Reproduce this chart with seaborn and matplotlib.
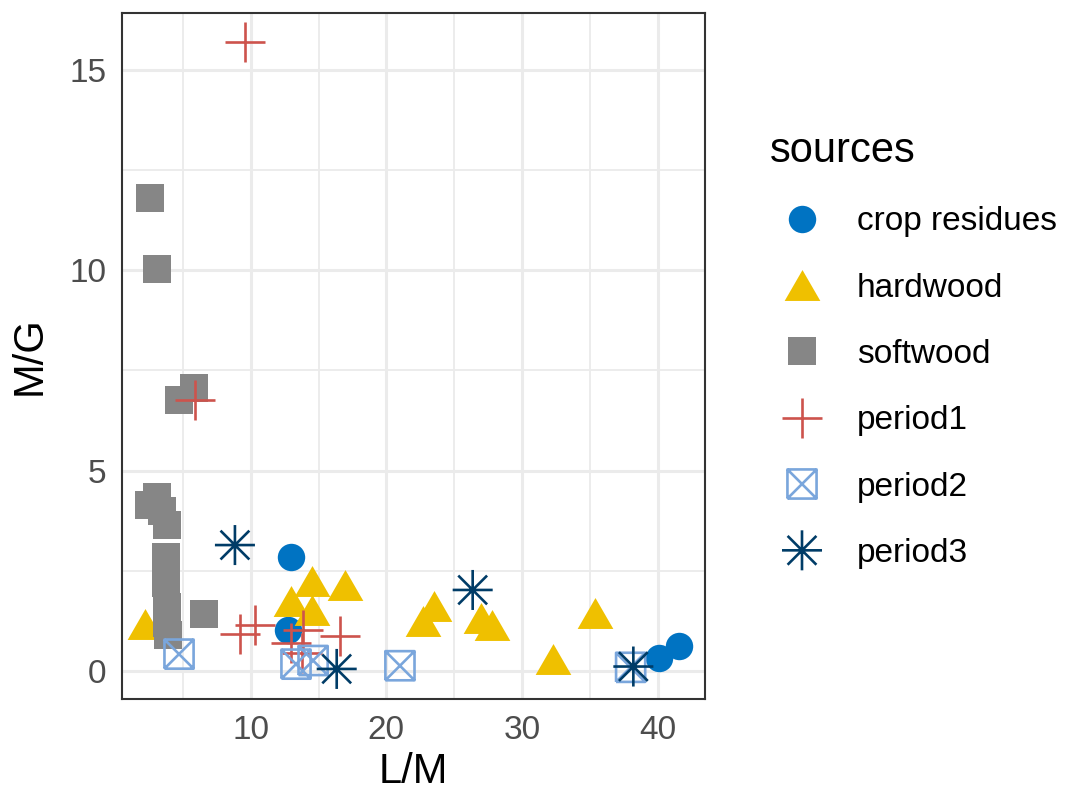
import numpy as np
import pandas as pd
import seaborn as sns
import matplotlib.pyplot as plt
from matplotlib.path import Path
from matplotlib.markers import MarkerStyle
from matplotlib.ticker import MultipleLocator

# values
crop_x = [12.95, 12.77, 40.1, 41.6]
crop_y = [2.83, 1.02, 0.32, 0.62]
hard_x = [2.2, 12.97, 14.5, 14.5, 16.95, 22.7, 23.5, 26.97, 27.8, 32.3, 35.4]
hard_y = [1.17, 1.75, 1.52, 2.24, 2.14, 1.25, 1.63, 1.32, 1.15, 0.29, 1.44]
soft_x = [2.58, 3.12, 4.74, 5.82, 2.5, 3.07, 3.5, 3.8, 3.76, 3.76, 3.8, 3.85, 3.9, 6.56]
soft_y = [11.8, 10.02, 6.76, 7.05, 4.14, 4.35, 4.0, 3.64, 2.85, 2.19, 1.6, 1.2, 0.9, 1.42]
p1_x = [9.58, 5.9, 9.2, 10.3, 13.88, 13.0, 13.76, 16.58]
p1_y = [15.68, 6.76, 0.92, 1.15, 1.02, 0.69, 0.44, 0.88]
p2_x = [4.72, 13.34, 14.6, 21.0, 38.0]
p2_y = [0.42, 0.17, 0.26, 0.13, 0.09]
p3_x = [8.84, 26.36, 16.34, 38.2]
p3_y = [3.14, 2.02, 0.05, 0.11]

sources = ["crop residues", "hardwood", "softwood", "period1", "period2", "period3"]
colors = ["#0073C2", "#EFC000", "#868686", "#CD534C", "#7AA6DC", "#003C67"]
xs = [crop_x, hard_x, soft_x, p1_x, p2_x, p3_x]
ys = [crop_y, hard_y, soft_y, p1_y, p2_y, p3_y]

df = pd.concat([pd.DataFrame({"L/M": x, "M/G": y, "source": s})
                for x, y, s in zip(xs, ys, sources)], ignore_index=True)

# ggplot-like marker shapes
M, L = Path.MOVETO, Path.LINETO
triangle = MarkerStyle(Path([(0, 0.866), (-1, -0.866), (1, -0.866), (0, 0.866)],
                            [M, L, L, Path.CLOSEPOLY]))
box_x = MarkerStyle(Path([(-1, -1), (1, -1), (1, 1), (-1, 1), (-1, -1),
                          (-1, -1), (1, 1), (-1, 1), (1, -1)],
                         [M, L, L, L, L, M, L, M, L]))
d = 0.72
asterisk = MarkerStyle(Path([(-1, 0), (1, 0), (0, -1), (0, 1),
                             (-d, -d), (d, d), (-d, d), (d, -d)],
                            [M, L, M, L, M, L, M, L]))

# (marker, size, kind)
styles = {
    "crop residues": ("o", 390, "fill"),
    "hardwood": (triangle, 660, "fill"),
    "softwood": ("s", 400, "fill"),
    "period1": ("+", 830, "plus"),
    "period2": (box_x, 440, "line"),
    "period3": (asterisk, 830, "line"),
}

sns.set_style("white")
plt.rcParams["font.family"] = ["Liberation Sans", "DejaVu Sans"]
plt.rcParams["text.color"] = "black"
plt.rcParams["axes.labelcolor"] = "black"

fig = plt.figure(figsize=(10.67, 7.98), dpi=100)
ax = fig.add_axes([122.3 / 1067, 1 - 699 / 798, (705 - 122.3) / 1067, (699 - 12.7) / 798])

for src, col in zip(sources, colors):
    sub = df[df["source"] == src]
    mk, sz, kind = styles[src]
    if kind == "fill":
        sns.scatterplot(data=sub, x="L/M", y="M/G", marker=mk, s=sz, color=col,
                        linewidth=0, ax=ax, label=src, zorder=3)
    elif kind == "plus":
        sns.scatterplot(data=sub, x="L/M", y="M/G", marker=mk, s=sz, color=col,
                        linewidth=1.9, ax=ax, label=src, zorder=3)
    else:
        sns.scatterplot(data=sub, x="L/M", y="M/G", marker=mk, s=sz, color=col,
                        facecolor="none", edgecolor=col, linewidth=1.9,
                        ax=ax, label=src, zorder=3)

ax.set_xlim(0.54, 43.48)
ax.set_ylim(-0.70, 16.42)
ax.xaxis.set_major_locator(MultipleLocator(10))
ax.xaxis.set_minor_locator(MultipleLocator(5))
ax.yaxis.set_major_locator(MultipleLocator(5))
ax.yaxis.set_minor_locator(MultipleLocator(2.5))
ax.set_xticks([10, 20, 30, 40])

ax.grid(which="major", color="#EBEBEB", linewidth=2.2)
ax.grid(which="minor", color="#EBEBEB", linewidth=1.3)
ax.set_axisbelow(True)
for sp in ax.spines.values():
    sp.set_color("#333333")
    sp.set_linewidth(1.5)

ax.tick_params(which="major", length=7.5, width=1.5, color="#333333",
               labelsize=24, labelcolor="#4D4D4D", pad=4)
ax.tick_params(which="minor", length=0)
ax.set_xlabel("L/M", fontsize=30, labelpad=4, color="black")
ax.set_ylabel("M/G", fontsize=30, labelpad=14, color="black")

leg = ax.legend(title="sources", loc="upper left", bbox_to_anchor=(770 / 1067, 1 - 131 / 798),
                bbox_transform=fig.transFigure, frameon=False, fontsize=24, title_fontsize=30,
                alignment="left", borderpad=0, borderaxespad=0, handlelength=1.92,
                handletextpad=0.69, labelspacing=1.06, scatterpoints=1, scatteryoffsets=[0.5])
for t in leg.get_texts():
    t.set_color("black")
leg.get_title().set_color("black")

fig.savefig("out.png", dpi=100)
